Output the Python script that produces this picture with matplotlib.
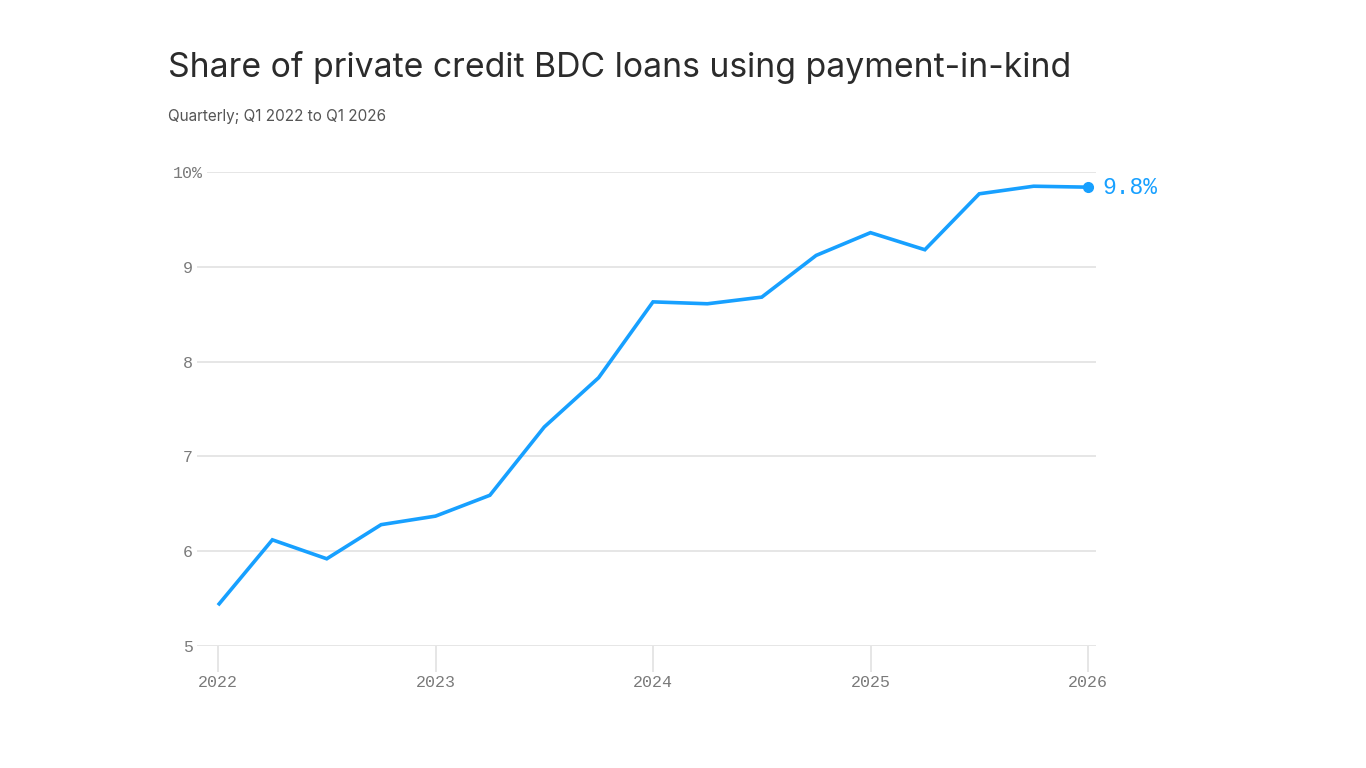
import matplotlib.pyplot as plt
import numpy as np

quarters = ['Q1 2022', 'Q2 2022', 'Q3 2022', 'Q4 2022',
            'Q1 2023', 'Q2 2023', 'Q3 2023', 'Q4 2023',
            'Q1 2024', 'Q2 2024', 'Q3 2024', 'Q4 2024',
            'Q1 2025', 'Q2 2025', 'Q3 2025', 'Q4 2025',
            'Q1 2026']
pik_share = [5.43, 6.12, 5.92, 6.28,
             6.37, 6.59, 7.31, 7.83,
             8.63, 8.61, 8.68, 9.12,
             9.36, 9.18, 9.77, 9.85,
             9.84]
year_labels = ['2022', '2023', '2024', '2025', '2026']
y_ticks = [5, 6, 7, 8, 9, 10]
end_label = '9.8%'

blue = '#17a0ff'
grid_col = '#e2e2e2'
tick_col = '#7a7a7a'
mono = ['Liberation Mono', 'DejaVu Sans Mono']
tick_fs = 12

fig = plt.figure(figsize=(13.66, 7.68), dpi=100)
ax = fig.add_axes([197 / 1366, 1 - 646 / 768, 899 / 1366, 474 / 768])

x = np.arange(len(quarters))
ax.set_xlim(-21 / 54.375, 16 + 8 / 54.375)
ax.set_ylim(5, 10)

# gridlines (the top one starts after the "10%" label)
for v in y_ticks:
    xmin = -0.2 if v == 10 else ax.get_xlim()[0]
    ax.hlines(v, xmin, ax.get_xlim()[1], color=grid_col, lw=1.2, zorder=1)

ax.plot(x, pik_share, color=blue, lw=2.6, zorder=3, clip_on=False,
        solid_joinstyle='miter', solid_capstyle='butt')
ax.plot(x[-1], pik_share[-1], 'o', color=blue, ms=7, zorder=4, clip_on=False)
ax.annotate(end_label, (x[-1], pik_share[-1]), xytext=(10, 0),
            textcoords='offset points', va='center', ha='left',
            color=blue, fontsize=16.5, family=mono)

for s in ax.spines.values():
    s.set_visible(False)

ax.set_yticks(y_ticks)
ax.set_yticklabels([str(v) if v != 10 else '' for v in y_ticks],
                   family=mono, fontsize=tick_fs, color=tick_col)
ax.tick_params(axis='y', length=0, pad=3)
# top label: "10" lines up with the others, the "%" hangs to the right
ax.annotate('%d%%' % y_ticks[-1], (0, y_ticks[-1]),
            xycoords=('axes fraction', 'data'),
            xytext=(-3 - 2 * 0.6 * tick_fs, 0), textcoords='offset points',
            ha='left', va='center_baseline',
            family=mono, fontsize=tick_fs, color=tick_col)

ax.set_xticks(x[::4])
ax.set_xticklabels(year_labels, family=mono, fontsize=tick_fs, color=tick_col)
ax.tick_params(axis='x', length=19, width=1.2, color=grid_col, pad=2)

fig.text(168 / 1366, 1 - 67 / 768,
         'Share of private credit BDC loans using payment-in-kind',
         fontsize=24.3, color='#2b2b2b', family=['Inter', 'DejaVu Sans'],
         va='center', ha='left')
fig.text(168 / 1366, 1 - 117 / 768, 'Quarterly; Q1 2022 to Q1 2026',
         fontsize=11, color='#555555', family=['Inter', 'DejaVu Sans'],
         va='center', ha='left')

fig.savefig('out.png', dpi=100, facecolor='white')
